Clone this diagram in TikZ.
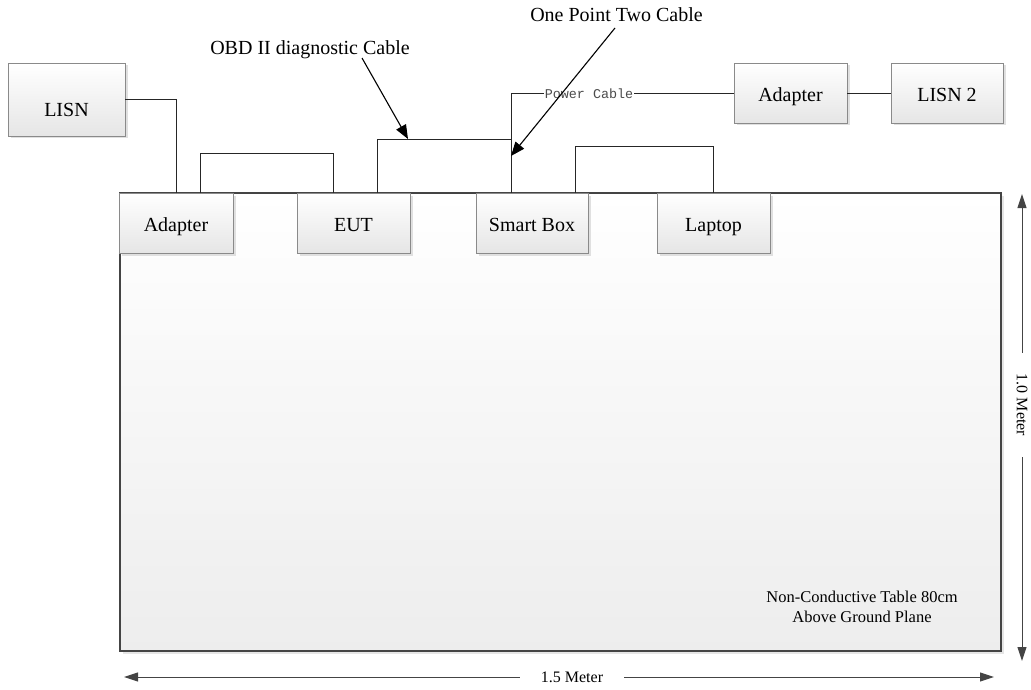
\documentclass[tikz,border=0pt]{standalone}
\usepackage{fontspec}
\setmainfont{Liberation Serif}
\newfontfamily\pcmono{Liberation Mono}
\usetikzlibrary{arrows.meta,shadows}
\definecolor{boxline}{HTML}{8A8A8A}
\definecolor{tableline}{HTML}{444444}
\definecolor{dimline}{HTML}{444444}
\tikzset{
  box/.style={draw=boxline, line width=0.8pt, top color=white, bottom color=black!10,
    minimum height=60pt, minimum width=113pt, inner sep=0pt,
    font=\fontsize{20}{24}\selectfont, text height=17pt, text depth=0pt,
    drop shadow={shadow xshift=2.5pt, shadow yshift=-2.5pt, fill=black!12, opacity=1}},
  tablebox/.style={draw=tableline, line width=2.6pt, top color=white, bottom color=black!7,
    minimum width=881pt, minimum height=458pt, inner sep=0pt,
    drop shadow={shadow xshift=3pt, shadow yshift=-3pt, fill=black!10, opacity=1}},
  cable/.style={draw=black!85, line width=0.8pt},
  callout/.style={draw=black, line width=1.1pt, -{Triangle[length=14pt,width=11pt]}},
  dim/.style={draw=dimline, line width=1pt, {Triangle[length=14pt,width=9pt]}-{Triangle[length=14pt,width=9pt]}},
  lbl/.style={font=\fontsize{20}{24}\selectfont, inner sep=1pt, anchor=base},
  dimlbl/.style={font=\fontsize{16}{19}\selectfont, fill=white, inner sep=0pt, minimum width=104pt, minimum height=14pt},
  pclbl/.style={font=\pcmono\fontsize{13.4}{15}\selectfont, text=black!70, fill=white, inner sep=1pt},
}
\begin{document}
\begin{tikzpicture}[x=1pt,y=-1pt]
\useasboundingbox (0,0) rectangle (1031,690);
% table
\node[tablebox] (table) at (560.5,422) {};
\node[font=\fontsize{16.5}{20}\selectfont, align=center] (tabletxt) at (862,607) {Non-Conductive Table 80cm\\Above Ground Plane};
% boxes on the table
\node[box, minimum width=114pt] (adapt) at (176,223) {Adapter};
\node[box] (eut) at (353.5,223) {EUT};
\node[box, minimum width=112pt] (smart) at (532,223) {Smart Box};
\node[box] (laptop) at (713.5,223) {Laptop};
% outside boxes
\node[box, minimum width=117pt, minimum height=73pt, text height=34pt] (lisn) at (66.5,99.5) {LISN};
\node[box] (adapt2) at (790.5,93) {Adapter};
\node[box, minimum width=112pt] (lisn2) at (947,93) {LISN 2};
% cables
\draw[cable] (lisn.east) -| (adapt.north);
\draw[cable] ([xshift=24pt]adapt.north) -- ++(0,-39) -| ([xshift=-20.5pt]eut.north);
\coordinate (j) at (511,139);
\draw[cable] ([xshift=23.5pt]eut.north) |- (j) -- (j |- smart.north);
\draw[cable] (j) |- (adapt2.west);
\node[pclbl] (pc) at (589,94) {Power Cable};
\draw[cable] ([xshift=43pt]smart.north) -- ++(0,-46) -| (laptop.north);
\draw[cable] (adapt2.east) -- (lisn2.west);
% callouts
\node[lbl] (obd) at (310,55) {OBD II diagnostic Cable};
\coordinate (obdstart) at (362,58);
\coordinate (obdtip) at (408,139);
\draw[callout] (obdstart) -- (obdtip);
\node[lbl] (opt) at (616.5,22) {One Point Two Cable};
\coordinate (optstart) at (615,28);
\coordinate (opttip) at (511,156);
\draw[callout] (optstart) -- (opttip);
% dimensions
\coordinate (hl) at (124,677);
\coordinate (hr) at (994,677);
\draw[dim] (hl) -- (hr);
\node[dimlbl] (hlab) at (572,677) {1.5 Meter};
\coordinate (vt) at (1022,194);
\coordinate (vb) at (1022,661);
\draw[dim] (vt) -- (vb);
\node[dimlbl, rotate=-90] (vlab) at (1022,405) {1.0 Meter};
\end{tikzpicture}
\end{document}
